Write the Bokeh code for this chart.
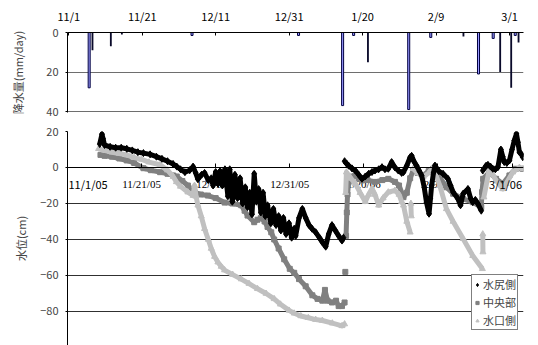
import numpy as np
import pandas as pd
from bokeh.plotting import figure
from bokeh.layouts import column
from bokeh.models import (Range1d, FixedTicker, LinearAxis, Legend, LegendItem,
                          ColumnDataSource, LabelSet, Label)
from bokeh.transform import dodge
from bokeh.embed import file_html
from bokeh.resources import INLINE

FONT = "Noto Sans CJK JP"
NaN = float("nan")
ORIGIN = pd.Timestamp("2005-11-01")

# ---------------- axis ticks ----------------
tick_dates = ["2005-11-01", "2005-11-21", "2005-12-11", "2005-12-31",
              "2006-01-20", "2006-02-09", "2006-03-01"]
top_tick_labels = ["11/1", "11/21", "12/11", "12/31", "1/20", "2/9", "3/1"]
bottom_tick_labels = ["11/1/05", "11/21/05", "12/11/05", "12/31/05",
                      "1/20/06", "2/9/06", "3/1/06"]
rain_ticks = [0, 20, 40]
rain_tick_labels = ["0", "20", "40"]
level_ticks = [-100, -80, -60, -40, -20, 0, 20]
level_tick_labels = ["−100", "−80", "−60", "−40", "−20", "0", "20"]

# ---------------- precipitation (mm/day) ----------------
rain_dates = ["2005-11-07", "2005-11-12", "2005-11-15", "2005-12-05",
              "2006-01-03", "2006-01-15", "2006-01-18", "2006-01-21",
              "2006-02-02", "2006-02-08", "2006-02-16", "2006-02-21",
              "2006-02-25", "2006-02-26", "2006-03-01", "2006-03-03"]
rain_gauge_a = [28, 0, 0, 1.5, 1.5, 37, 1.5, 0, 39, 2.5, 0, 21, 3, 0, 0, 1.5]
rain_gauge_b = [9, 7, 1, 0, 0, 0, 0, 15, 0, 0, 2, 0, 0, 20, 28, 5]

# ---------------- water level (cm); day = days since 2005-11-01, NaN = gap ----------------
mizujiri_day = [8.7, 9.3, 9.6, 10, 11.5, 13, 14.5, 16, 17.5, 19, 20.5, 22.3, 24, 25.5,
                27, 28.5, 29.5, 30.5, 31.7, 33, 33.9, 34.6, 35.2, 36.2, 37, 38, 38.8,
                39.3, 40, 40.6, 41.2, 41.8, 42.5, 43.3, 43.8, 44.5, 45.2, 45.9, 46.6,
                47.3, 48, 48.6, 49.2, 49.8, 50.4, 51, 51.6, 52.2, 52.8, 53.4, 54, 54.9,
                55.6, 56.3, 57, 57.6, 58.3, 59, 59.8, 60.5, 61.2, 61.6, 62.5, 63.4,
                64.3, 65.2, 66, 67, 68, 68.8, 69.7, 70.5, 71.4, 72.3, 73.2, 74.1, 74.5,
                74.65, 74.8, 75.4, 75.9, 76.8, 77.7, 78.6, 79.5, 80.4, 81.3, 82.2, 83,
                84, 84.9, 85.7, 86.6, 87.5, 88.4, 89.3, 90.2, 90.7, 91.6, 92.5, 92.9,
                93.5, 94.2, 95, 95.6, 96.3, 96.9, 97.6, 98, 98.3, 98.8, 99.2, 100.2,
                101.4, 102.7, 103.4, 104.1, 105.4, 106.1, 106.8, 108.1, 108.8, 109.4,
                110.1, 110.8, 111.7, 111.9, 112.1, 113, 113.5, 114.2, 114.8, 115.5,
                116.2, 117, 117.5, 117.9, 118.6, 119.3, 120, 120.6, 121.2, 121.6, 122,
                122.5, 122.9]
mizujiri_cm = [13, 18.5, 16, 12.5, 11.5, 11, 11, 10.4, 9.5, 8.5, 8, 7.3, 6, 4.8,
               3.5, 2, 0.5, -1, -2.6, -1.5, 0.5, -3, -6.5, -4, -3, -7, -6,
               -10, -2.5, -9, -2, -10, -1, -16, -1, -19, -4, -17, -6,
               -20, -11, -22, -14, -26, -3.5, -19, -12, -25, -14, -27, -21, -31,
               -23, -32, -27, -35, -28, -37, -31, -39, -34, -38, -28, -23,
               -28, -32, -34, -36, -39, -41.5, -44, -37, -32, -35, -38, -40.6, -39,
               NaN, 3.5, 2, 1, -0.5, -1.7, -4, -6.3, -5, -3.5, -2.5, -1.7,
               -1, 0.2, -1, -0.7, 3, 0, -1.7, -3, -2.6, 1, 5.7, 6.5,
               3.5, 1.1, -2, -4.4, -11, -19.3, -25.7, -17, -10, -3, 1.1, -2,
               -3.5, -6.3, -10, -13.7, -17.4, -21, -14.6, -11.9, -17, -19.3,
               -18, -20.2, -24, NaN, -1.7, 1, 1.5, 0.5, -0.7, -1,
               0.2, 10, 6, 3, 2.5, 3.9, 10, 15, 18.7, 14, 8.5,
               7.5, 5.7]

chuo_day = [8.9, 10, 12, 14, 16, 18, 20.5, 22.5, 25, 27, 28.5, 29.5, 31, 32.5, 34.3,
            36, 37.9, 40, 42.4, 44.5, 46.9, 47.8, 48.6, 50.4, 51.3, 52.2, 53.2, 54,
            55, 55.8, 57, 58.5, 60, 61.2, 62.5, 64.3, 66.1, 67.5, 68.8, 69.5, 70.2,
            71.4, 72.5, 73.2, 74.1, 74.8, 74.9, 75.0, 75.1, 75.2, 75.4, 75.6, 75.9,
            77, 77.7, 78.6, 79.5, 81, 83, 85, 86.6, 88.4, 89.5, 90.7, 91.6, 92.5,
            93.3, 94.5, 96, 97.5, 98.7, 100.5, 102.3, 104.1, 106.8, 109.4, 111.7,
            111.9, 112.2, 113.9, 115.7, 117.5, 119.3, 121, 122.9]
chuo_cm = [7, 6.5, 6, 5, 3.9, 2.5, -0.4, -1.5, -2.6, -3.5, -4.4, -5, -7.5, -10, -13.7,
           -15, -15.6, -17, -19.5, -20, -21, -24, -26.7, -30.4, -29, -28, -30, -33,
           -36, -40, -45, -51, -56.3, -58.5, -62, -66, -71, -73, -74, -68, -74,
           -75, -74, -77, -77, -75, NaN, -58, NaN, -38, -25, -15, -8,
           -5, -4.4, -6, -7.2, -7, -8, -7, -6.3, -8, -10, -16.5, -14, -6,
           -1.7, -3, -4.4, -2, -0.7, -5.4, -11, -14.6, -17.4, -19.3, -22,
           -13.7, -6.3, -2.6, -6.3, -9, -4.4, -0.7, -0.7]

minakuchi_day = [8.4, 10, 12, 14, 16, 18, 20, 22, 25, 27, 28.5, 29.4, 30.5, 32.5, 33.9,
                 34.3, 34.7, 35.2, 36.1, 37, 38, 38.8, 39.7, 40.6, 41.5, 42.4, 44.6,
                 46.9, 49, 51.3, 53.6, 55.8, 57.5, 59.8, 61.2, 63, 65, 67, 68.8, 71.5,
                 74.1, 74.8, 74.95, 75.1, 75.3, 76.5, 77.7, 79, 80.4, 81.3, 82.2, 83,
                 84, 85.2, 86.6, 88.4, 89.5, 90.2, 90.7, 91.6, 92.5, 92.6, 92.7, 92.8,
                 92.9, 93.3, 94.5, 96, 97.5, 98.7, 100.5, 102.3, 104.1, 106.8, 109.4,
                 112.0, 112.05, 112.1, 112.15, 112.2, 112.4, 113.9, 115.7, 117.5,
                 118.4, 120.2, 122, 123.0]
minakuchi_cm = [10.4, 9.5, 8.5, 7.8, 7, 5.5, 4.5, 3, 1.5, -1.5, -5, -8, -10.5, -13.7, -15.6,
                -10, -16, -21, -27, -34, -40, -45, -49.5, -52.6, -55, -57, -59.5,
                -62, -64.5, -67.4, -70, -73, -76, -79.4, -81, -82.5, -83.5, -84.5, -85, -86.5,
                -88, -87, NaN, -14, -2.6, -6, -9, -14, -19, -15, -11.8, -15,
                -21, -17, -13.7, -12.8, -15, -19, -21, -30, -36, NaN, -20, -27,
                NaN, -0.7, -3, -5.4, -3, 0, -10, -23, -30, -39.6, -49,
                -56.3, NaN, -37, -47, NaN, -16.5, -0.7, -7.2, -11.9,
                -9, -2.6, 0, -0.7]


def to_day(d):
    return (pd.Timestamp(d) - ORIGIN).days


tick_x = [to_day(d) for d in tick_dates]

# ================= top panel: precipitation =================
p1 = figure(width=538, height=121, output_backend="svg", toolbar_location=None,
            x_range=Range1d(-0.35, 123.8), y_range=Range1d(40.5, 0),
            x_axis_location="above", min_border_left=65, min_border_right=15,
            min_border_top=32, min_border_bottom=9)
p1.outline_line_color = None

rain_x = [to_day(d) for d in rain_dates]
src_a = ColumnDataSource(dict(day=[x for x, v in zip(rain_x, rain_gauge_a) if v > 0],
                              mm=[v for v in rain_gauge_a if v > 0]))
src_b = ColumnDataSource(dict(day=[x for x, v in zip(rain_x, rain_gauge_b) if v > 0],
                              mm=[v for v in rain_gauge_b if v > 0]))
p1.vbar(x=dodge("day", -0.45, range=p1.x_range), top="mm", bottom=0, width=0.55,
        source=src_a, fill_color="#9999FF", line_color="#000040", line_width=1)
p1.vbar(x=dodge("day", 0.45, range=p1.x_range), top="mm", bottom=0, width=0.5,
        source=src_b, fill_color="#0a0a2a", line_color=None)

p1.xgrid.visible = False
p1.ygrid.ticker = FixedTicker(ticks=[20, 40])
p1.ygrid.grid_line_color = "#6e6e6e"

xa = p1.xaxis[0]
xa.ticker = FixedTicker(ticks=tick_x)
xa.major_label_overrides = {t: l for t, l in zip(tick_x, top_tick_labels)}
xa.major_tick_in = 3
xa.major_tick_out = 0
xa.minor_tick_line_color = None
xa.axis_line_color = "black"
xa.major_label_standoff = 9
xa.major_label_text_font = FONT
xa.major_label_text_font_size = "11px"
xa.major_label_text_color = "black"

ya = p1.yaxis[0]
ya.ticker = FixedTicker(ticks=rain_ticks)
ya.major_label_overrides = {t: l for t, l in zip(rain_ticks, rain_tick_labels)}
ya.major_tick_in = 0
ya.major_tick_out = 2
ya.minor_tick_line_color = None
ya.axis_line_color = "black"
ya.major_label_standoff = 7
ya.major_label_text_font = FONT
ya.major_label_text_font_size = "11px"
ya.axis_label = "降水量(mm/day)"
ya.axis_label_text_font = FONT
ya.axis_label_text_font_size = "11px"
ya.axis_label_text_font_style = "normal"
ya.axis_label_standoff = 17

# ================= bottom panel: water level =================
p2 = figure(width=538, height=224, output_backend="svg", toolbar_location=None,
            x_range=Range1d(0, 123.1), y_range=Range1d(-98.9, 20),
            x_axis_location=None, min_border_left=67, min_border_right=12,
            min_border_top=10, min_border_bottom=0)
p2.outline_line_color = None
p2.xgrid.visible = False
p2.ygrid.ticker = FixedTicker(ticks=[-80, -60, -40, -20, 20])
p2.ygrid.grid_line_color = "#303030"

# x axis drawn along the zero line
xb = LinearAxis(fixed_location=0)
xb.ticker = FixedTicker(ticks=tick_x)
xb.major_tick_in = 4
xb.major_tick_out = 0
xb.minor_tick_line_color = None
xb.axis_line_color = "black"
xb.major_label_text_color = None
p2.add_layout(xb, "below")

yb = p2.yaxis[0]
yb.ticker = FixedTicker(ticks=level_ticks)
yb.major_label_overrides = {t: l for t, l in zip(level_ticks, level_tick_labels)}
yb.major_tick_in = 0
yb.major_tick_out = 2
yb.minor_tick_line_color = None
yb.axis_line_color = "black"
yb.major_label_standoff = 7
yb.major_label_text_font = FONT
yb.major_label_text_font_size = "11px"
yb.axis_label = "水位(cm)"
yb.axis_label_text_font = FONT
yb.axis_label_text_font_size = "11px"
yb.axis_label_text_font_style = "normal"
yb.axis_label_standoff = 8

# date labels along the zero line: inner ones sit beneath the data (as in the
# original); the two end labels are kept fully inside the plot edges.
n_ticks = len(tick_x)
inner = list(range(1, n_ticks - 1))
label_style = dict(text_baseline="middle", y_offset=-17,
                   text_font=FONT, text_font_size="11px", text_color="black")
src_inner = ColumnDataSource(dict(x=[tick_x[i] for i in inner], y=[0] * len(inner),
                                  text=[bottom_tick_labels[i] for i in inner]))
p2.add_layout(LabelSet(x="x", y="y", text="text", source=src_inner, level="underlay",
                       text_align="center", **label_style))
p2.add_layout(Label(x=tick_x[0], y=0, text=bottom_tick_labels[0], level="overlay",
                    text_align="left", x_offset=1, **label_style))
p2.add_layout(Label(x=tick_x[-1], y=0, text=bottom_tick_labels[-1], level="overlay",
                    text_align="right", x_offset=10, **label_style))

s_chuo = ColumnDataSource(dict(d=np.array(chuo_day, float), v=np.array(chuo_cm, float)))
s_mina = ColumnDataSource(dict(d=np.array(minakuchi_day, float), v=np.array(minakuchi_cm, float)))
s_mizu = ColumnDataSource(dict(d=np.array(mizujiri_day, float), v=np.array(mizujiri_cm, float)))

p2.line("d", "v", source=s_chuo, line_color="#808080", line_width=5, line_join="round")
r_chuo = p2.scatter("d", "v", source=s_chuo, marker="square", size=5,
                    fill_color="#808080", line_color="#808080")
p2.line("d", "v", source=s_mina, line_color="#C0C0C0", line_width=5, line_join="round")
r_mina = p2.scatter("d", "v", source=s_mina, marker="triangle", size=6,
                    fill_color="#C0C0C0", line_color="#C0C0C0")
p2.line("d", "v", source=s_mizu, line_color="black", line_width=5, line_join="round")
r_mizu = p2.scatter("d", "v", source=s_mizu, marker="diamond", size=7,
                    fill_color="black", line_color="black")

legend = Legend(items=[LegendItem(label="水尻側", renderers=[r_mizu]),
                       LegendItem(label="中央部", renderers=[r_chuo]),
                       LegendItem(label="水口側", renderers=[r_mina])],
                location=(404, 15))
legend.label_text_font = FONT
legend.label_text_font_size = "11px"
legend.label_text_line_height = 1.0
legend.glyph_width = 8
legend.glyph_height = 13
legend.label_height = 13
legend.label_standoff = 2
legend.spacing = 2
legend.padding = 1
legend.margin = 0
legend.border_line_color = "black"
legend.border_line_width = 1
legend.background_fill_color = "white"
legend.background_fill_alpha = 1
p2.add_layout(legend)

layout = column(p1, p2, spacing=0)
open("out.html", "w").write(file_html(layout, INLINE))
